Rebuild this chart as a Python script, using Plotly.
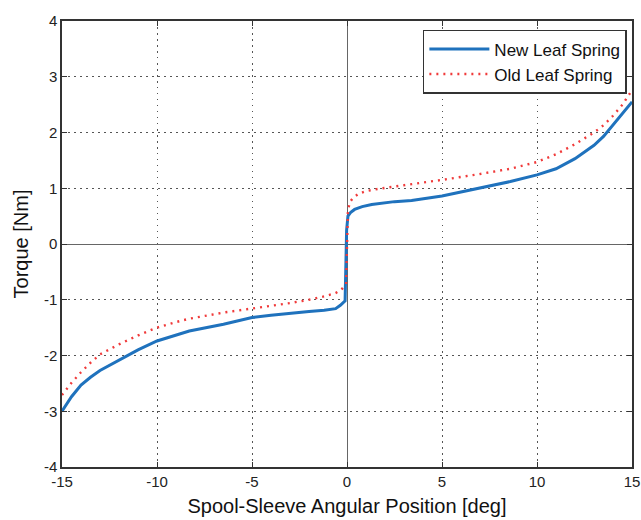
import plotly.graph_objects as go

# New Leaf Spring (blue solid)
x_new = [-15, -14.75, -14.5, -14, -13.5, -13, -12, -11, -10, -9, -8.3, -6.5, -5, -4, -3, -2, -1.2, -0.6, -0.35, -0.1, -0.02,
         0.05, 0.2, 0.4, 0.8, 1.3, 2.5, 3.4, 5, 6.9, 8.6, 10, 11, 12, 13, 13.5, 14, 14.5, 15]
y_new = [-3.0, -2.86, -2.74, -2.53, -2.39, -2.27, -2.08, -1.9, -1.74, -1.64, -1.56, -1.44, -1.32, -1.28, -1.24, -1.21, -1.19, -1.16, -1.1, -1.02, 0.25,
         0.5, 0.57, 0.62, 0.67, 0.71, 0.76, 0.78, 0.86, 1.0, 1.12, 1.24, 1.35, 1.53, 1.77, 1.93, 2.13, 2.33, 2.55]

# Old Leaf Spring (red dotted)
x_old = [-15, -14.75, -14.5, -14, -13.5, -13, -12, -11, -10, -9, -8.3, -6.5, -5, -4, -3, -2, -1.2, -0.6, -0.3, -0.05,
         0.05, 0.15, 0.3, 0.6, 1.0, 1.65, 3.4, 5, 6.9, 8.6, 10, 11, 12, 13, 13.5, 14, 14.5, 15]
y_old = [-2.71, -2.6, -2.49, -2.3, -2.13, -1.98, -1.8, -1.64, -1.5, -1.4, -1.34, -1.23, -1.16, -1.11, -1.06, -1.0, -0.94, -0.88, -0.82, -0.72,
         0.6, 0.75, 0.82, 0.9, 0.95, 0.99, 1.07, 1.15, 1.25, 1.35, 1.47, 1.61, 1.79, 2.0, 2.13, 2.3, 2.5, 2.76]

x_ticks = [-15, -10, -5, 0, 5, 10, 15]
y_ticks = [-4, -3, -2, -1, 0, 1, 2, 3, 4]

font_family = "Liberation Sans, Arial, sans-serif"

fig = go.Figure()
fig.add_trace(go.Scatter(x=x_new, y=y_new, mode="lines", name="New Leaf Spring",
                         line=dict(color="#1f72bd", width=3)))
fig.add_trace(go.Scatter(x=x_old, y=y_old, mode="lines", name="Old Leaf Spring",
                         line=dict(color="#f03a3a", width=2.4, dash="2px,5px")))

axis_common = dict(
    showline=True, linecolor="#333333", linewidth=1.5, mirror="ticks",
    ticks="inside", ticklen=5, tickcolor="#333333",
    showgrid=True, gridcolor="#555555", griddash="1.5px,4.5px", gridwidth=1.3,
    zeroline=True, zerolinecolor="#666666", zerolinewidth=1.2,
    tickfont=dict(family=font_family, size=15, color="#222222"),
    automargin=False,
)

fig.update_xaxes(range=[-15, 15], tickvals=x_ticks, ticktext=[str(v) for v in x_ticks],
                 title=dict(text="Spool-Sleeve Angular Position [deg]",
                            font=dict(family=font_family, size=20, color="#111111"), standoff=10),
                 **axis_common)
fig.update_yaxes(range=[-4, 4], tickvals=y_ticks, ticktext=[str(v) for v in y_ticks],
                 title=dict(text="Torque [Nm]",
                            font=dict(family=font_family, size=20, color="#111111"), standoff=10),
                 **axis_common)

fig.update_layout(
    width=641, height=520,
    margin=dict(l=62, r=9, t=21, b=53),
    paper_bgcolor="white", plot_bgcolor="white",
    font=dict(family=font_family),
    legend=dict(x=0.991, y=0.98, xanchor="right", yanchor="top",
                bgcolor="white", bordercolor="#333333", borderwidth=1.5,
                font=dict(family=font_family, size=17, color="#111111"),
                itemwidth=60, tracegroupgap=0),
    showlegend=True,
)

# remove the default page margin so the figure fills the window exactly
fig.write_html("out.html",
               config={"displayModeBar": False},
               post_script="document.body.style.margin='0';document.body.style.overflow='hidden';")
